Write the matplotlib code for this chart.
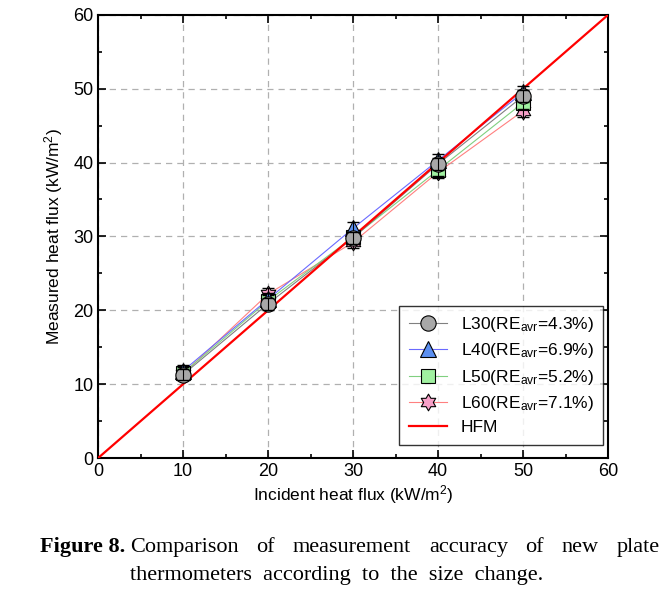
import matplotlib
matplotlib.use("Agg")
import numpy as np
import matplotlib.pyplot as plt
from matplotlib.ticker import MultipleLocator
from matplotlib.path import Path

plt.rcParams['font.family'] = ['Liberation Sans', 'DejaVu Sans']
plt.rcParams['mathtext.fontset'] = 'custom'
plt.rcParams['mathtext.rm'] = 'Liberation Sans'
plt.rcParams['mathtext.it'] = 'Liberation Sans:italic'

# incident heat flux (kW/m2)
x_vals = [10, 20, 30, 40, 50]
l30 = [11.3, 20.9, 29.8, 39.8, 49.0]
l40 = [11.8, 21.5, 31.1, 40.3, 49.5]
l50 = [11.5, 21.3, 29.9, 39.0, 48.1]
l60 = [11.4, 22.2, 29.2, 38.7, 47.0]
err = [0.8, 0.8, 0.8, 0.8, 0.8]
hfm_x = [0, 60]
hfm_y = [0, 60]

# six-pointed star marker (two triangles)
ang = np.deg2rad(90 + np.arange(12) * 30)
rad = np.where(np.arange(12) % 2 == 0, 1.0, 0.58)
star_verts = np.column_stack([rad * np.cos(ang), rad * np.sin(ang)])
star_verts = np.vstack([star_verts, star_verts[:1]])
hexagram = Path(star_verts, closed=True)

series = [
    (l30, 'L30', '4.3', 'o', 11, '#a8a8a8', '#808080'),
    (l40, 'L40', '6.9', '^', 11, '#5b8ff0', '#6a6aff'),
    (l50, 'L50', '5.2', 's', 10, '#a0f0a0', '#80d080'),
    (l60, 'L60', '7.1', hexagram, 12, '#f7a0c8', '#ff8080'),
]

fig = plt.figure(figsize=(6.72, 5.91), dpi=100)
ax = fig.add_axes([0.146, 0.225, 0.759, 0.750])

# draw L60 first so L30 ends up on top, like the original
for i, (y, name, re, mk, ms, fc, lc) in enumerate(reversed(series)):
    z = 2 + i * 0.1
    ax.plot(x_vals, y, color=lc, lw=0.8, zorder=2)
    ax.plot(x_vals, y, ls='none', marker=mk, ms=ms, mfc=fc, mec='black',
            mew=0.8, zorder=4 + z)
    ax.errorbar(x_vals, y, yerr=err, fmt='none', ecolor='black',
                elinewidth=0.8, capsize=4, zorder=4 + z + 0.05)

ax.plot(hfm_x, hfm_y, color='red', lw=1.6, zorder=3)

# legend proxies
handles = []
labels = []
for y, name, re, mk, ms, fc, lc in series:
    h, = ax.plot([], [], color=lc, lw=0.8, marker=mk, ms=ms, mfc=fc,
                 mec='black', mew=0.8)
    handles.append(h)
    labels.append(name + r'(RE$_{\rm avr}$=' + re + '%)')
h, = ax.plot([], [], color='red', lw=1.6)
handles.append(h)
labels.append('HFM')

leg = ax.legend(handles, labels, loc='lower right', fontsize=12.5,
                frameon=True, fancybox=False, edgecolor='black',
                handlelength=2.2, borderpad=0.55, labelspacing=0.42,
                borderaxespad=0, bbox_to_anchor=(1 - 5 / 510, 13 / 443))
leg.get_frame().set_linewidth(1.0)
leg.set_zorder(20)

ax.set_xlim(0, 60)
ax.set_ylim(0, 60)
ax.xaxis.set_major_locator(MultipleLocator(10))
ax.yaxis.set_major_locator(MultipleLocator(10))
ax.xaxis.set_minor_locator(MultipleLocator(5))
ax.yaxis.set_minor_locator(MultipleLocator(5))
ax.tick_params(which='both', direction='in', top=True, right=True,
               labelsize=13, width=1.2)
ax.tick_params(which='major', length=6)
ax.tick_params(which='minor', length=3)
ax.grid(True, which='major', ls=(0, (5, 4)), color='#b0b0b0', lw=0.9)
for s in ax.spines.values():
    s.set_linewidth(1.5)

ax.set_xlabel(r'Incident heat flux (kW/m$^{2}$)', fontsize=12.5, labelpad=2)
ax.set_ylabel(r'Measured heat flux (kW/m$^{2}$)', fontsize=12.5, labelpad=6)

# caption, first line justified between two edges
cap_font = dict(fontsize=16, family='Liberation Serif')
fig.text(40 / 672, 0.066, 'Figure 8.', fontweight='bold', **cap_font)
words = 'Comparison of measurement accuracy of new plate'.split()
renderer = fig.canvas.get_renderer()
tw = []
for w in words:
    t = fig.text(0, 0, w, **cap_font)
    tw.append(t.get_window_extent(renderer).width / fig.bbox.width)
    t.remove()
x0, x1 = 130 / 672, 660 / 672
gap = (x1 - x0 - sum(tw)) / (len(words) - 1)
xpos = x0
for w, wd in zip(words, tw):
    fig.text(xpos, 0.066, w, **cap_font)
    xpos += wd + gap
fig.text(x0, 0.019, 'thermometers  according  to  the  size  change.', **cap_font)

fig.savefig('out.png', dpi=100)
